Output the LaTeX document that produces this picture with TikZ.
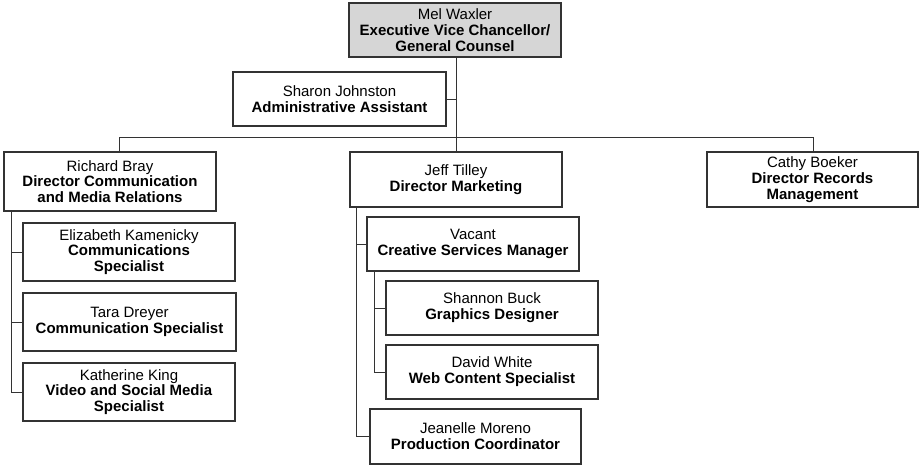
\documentclass[tikz,border=0pt]{standalone}
\usepackage{fontspec}
\setmainfont{Liberation Sans}
\usetikzlibrary{positioning}

\begin{document}
\begin{tikzpicture}[x=1pt, y=-1pt,
  link/.style={draw=black!80, line width=1pt},
  post/.style={draw=black!80, line width=1.2pt, fill=white, align=center,
    inner sep=0pt, minimum width=212pt, minimum height=54pt,
    font=\fontsize{15}{15.8}\selectfont},
  head/.style={post, fill=black!16}]
  \useasboundingbox (0,0) rectangle (919,466);
  % hub points of the top bar
  \coordinate (hub) at (456,137);
  \coordinate (barL) at (119,137);
  \coordinate (barR) at (813,137);

  \node[head] (mw) at (455,30) {Mel Waxler\\\textbf{Executive Vice Chancellor/}\\\textbf{General Counsel}};
  \node[post, minimum width=213pt] (sj) at (339.5,99) {Sharon Johnston\\\textbf{Administrative Assistant}};

  \node[post, minimum height=59pt] (rb) at (110,181.5) {Richard Bray\\\textbf{Director Communication}\\\textbf{and Media Relations}};
  \node[post, minimum height=58pt] (ek) at (129,252) {Elizabeth Kamenicky\\\textbf{Communications}\\\textbf{Specialist}};
  \node[post, minimum height=58pt, minimum width=213pt] (td) at (129.5,322) {Tara Dreyer\\\textbf{Communication Specialist}};
  \node[post, minimum height=58pt] (kk) at (129,392) {Katherine King\\\textbf{Video and Social Media}\\\textbf{Specialist}};

  \node[post, minimum height=55pt] (jt) at (456,179.5) {Jeff Tilley\\\textbf{Director Marketing}};
  \node[post] (vc) at (473,244) {Vacant\\\textbf{Creative Services Manager}};
  \node[post] (sb) at (492,308) {Shannon Buck\\\textbf{Graphics Designer}};
  \node[post] (dw) at (492,372) {David White\\\textbf{Web Content Specialist}};
  \node[post, minimum height=55pt, minimum width=211pt] (jm) at (475.5,436.5) {Jeanelle Moreno\\\textbf{Production Coordinator}};

  \node[post, minimum height=55pt, minimum width=211pt] (cb) at (812.5,179.5) {Cathy Boeker\\\textbf{Director Records}\\\textbf{Management}};

  % connectors
  \draw[link] (mw.south -| hub) -- (hub);
  \draw[link] (sj.east) -- (sj.east -| hub);
  \draw[link] (barL |- rb.north) -- (barL) -- (barR) -- (barR |- cb.north);
  \draw[link] (hub) -- (jt.north);
  \foreach \c in {ek,td,kk}
    \draw[link] ([xshift=8pt]rb.south west) |- (\c.west);
  \foreach \c in {vc,jm}
    \draw[link] ([xshift=7pt]jt.south west) |- (\c.west);
  \foreach \c in {sb,dw}
    \draw[link] ([xshift=8pt]vc.south west) |- (\c.west);
\end{tikzpicture}
\end{document}
